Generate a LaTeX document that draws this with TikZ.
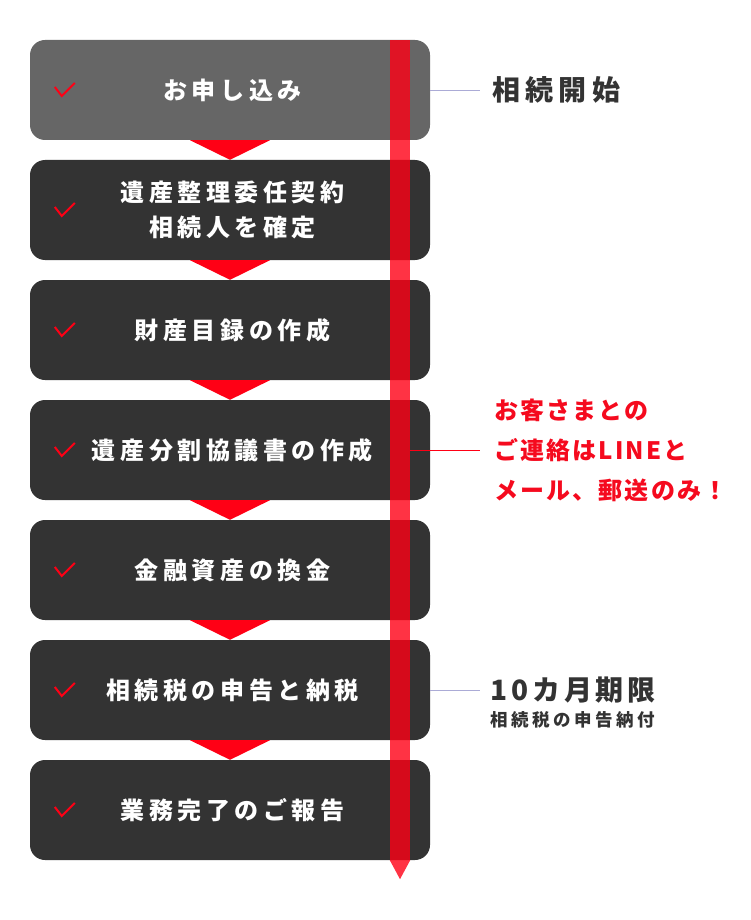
\documentclass[tikz,border=0pt]{standalone}
\usepackage{fontspec}
\setmainfont{Noto Sans CJK JP}
\newfontfamily\jpA{Noto Sans CJK JP}[LetterSpace=19]
\newfontfamily\jpB{Noto Sans CJK JP}[LetterSpace=19]
\newfontfamily\jpC{Noto Sans CJK JP}[LetterSpace=9]
\newfontfamily\jpD{Noto Sans CJK JP}[LetterSpace=20]
\newfontfamily\jpE{Noto Sans CJK JP}[LetterSpace=14]
\usetikzlibrary{calc}
\definecolor{boxdark}{HTML}{333333}
\definecolor{boxgray}{HTML}{666666}
\definecolor{mred}{HTML}{FF0015}
\definecolor{tred}{HTML}{F50A1E}
\definecolor{lav}{HTML}{ABABD6}
\definecolor{txt}{HTML}{333333}
\tikzset{
  stepbox/.style={fill=boxdark, rounded corners=15pt, minimum width=400pt, minimum height=100pt, inner sep=0pt},
  steplabel/.style={text=white, font=\jpA\bfseries\fontsize{24}{35}\selectfont, align=center, inner sep=0pt},
  tri/.style={fill=mred},
  chk/.style={draw=mred, line width=2pt, line join=miter},
  barstyle/.style={fill=mred, fill opacity=0.8, draw=none, minimum width=20pt, minimum height=820pt, inner sep=0pt},
  lavline/.style={draw=lav, line width=0.9pt},
  redline/.style={draw=mred, line width=1pt},
  sidetxt/.style={text=txt, font=\jpB\bfseries\fontsize{28}{32}\selectfont, inner xsep=12pt, inner ysep=0pt, anchor=west},
}
\begin{document}
\begin{tikzpicture}[x=1pt, y=-1pt]
\useasboundingbox (0,0) rectangle (750,920);
\node[stepbox, fill=boxgray] (b1) at (230,90) {};
\node[stepbox] (b2) at (230,210) {};
\node[stepbox] (b3) at (230,330) {};
\node[stepbox] (b4) at (230,450) {};
\node[stepbox] (b5) at (230,570) {};
\node[stepbox] (b6) at (230,690) {};
\node[stepbox] (b7) at (230,810) {};
\node[steplabel] (l1) at ($(b1.center)+(2.5,0)$) {お申し込み};
\node[steplabel] (l2) at ($(b2.center)+(2.5,0)$) {遺産整理委任契約\\相続人を確定};
\node[steplabel] (l3) at ($(b3.center)+(2.5,0)$) {財産目録の作成};
\node[steplabel] (l4) at ($(b4.center)+(2.5,0)$) {遺産分割協議書の作成};
\node[steplabel] (l5) at ($(b5.center)+(2.5,0)$) {金融資産の換金};
\node[steplabel] (l6) at ($(b6.center)+(2.5,0)$) {相続税の申告と納税};
\node[steplabel] (l7) at ($(b7.center)+(2.5,0)$) {業務完了のご報告};
\foreach \i/\j in {b1/b2,b2/b3,b3/b4,b4/b5,b5/b6,b6/b7}{
  \fill[tri] ($(\i.south)+(-40,0)$) -- ($(\i.south)+(40,0)$) -- (\j.north) -- cycle;
}
\foreach \i in {b1,b2,b3,b4,b5,b6,b7}{
  \draw[chk] ($(\i.west)+(25,-3)$) -- ($(\i.west)+(32,6)$) -- ($(\i.west)+(45,-7)$);
}
\node[barstyle] (bar) at (400,450) {};
\fill[mred, fill opacity=0.8] (bar.south west) -- (bar.south east) -- ($(bar.south)+(0,19)$) -- cycle;
% side texts
\node[sidetxt] (t1) at (480,90) {相続開始};
\node[sidetxt, text=tred, font=\jpC\bfseries\fontsize{24}{40}\selectfont, align=left, inner xsep=14pt] (t2) at (480,450) {お客さまとの\\ご連絡はLINEと\\メール、郵送のみ！};
\node[sidetxt, inner xsep=10pt, font=\jpE\bfseries\fontsize{28}{32}\selectfont] (t3) at (480,690) {10カ月期限};
\node[anchor=west, inner sep=0pt, text=txt, font=\jpD\bfseries\fontsize{17.5}{20}\selectfont] (t4) at (490,720) {相続税の申告納付};
\draw[lavline] (b1.east) -- (t1.west);
\draw[redline] (bar.east |- b4.center) -- (t2.west);
\draw[lavline] (b6.east) -- (t3.west);
\end{tikzpicture}
\end{document}
